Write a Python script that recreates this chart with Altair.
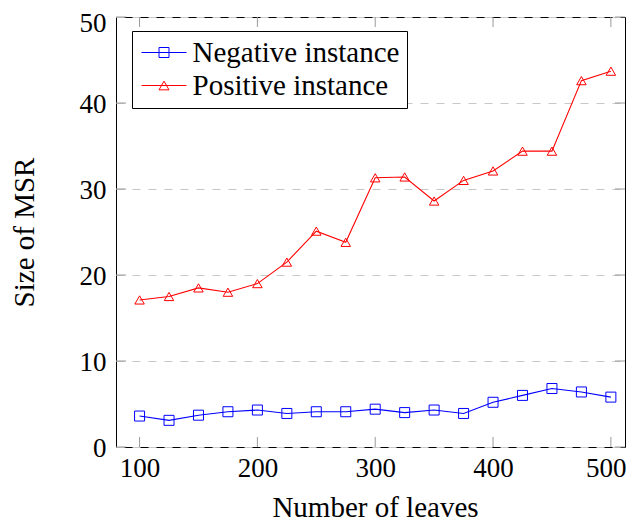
import altair as alt
import pandas as pd

# ---- data ----
leaves = [100, 125, 150, 175, 200, 225, 250, 275, 300, 325, 350, 375, 400, 425, 450, 475, 500]
negative = [3.6, 3.1, 3.7, 4.1, 4.3, 3.9, 4.1, 4.1, 4.4, 4.0, 4.3, 3.9, 5.2, 6.0, 6.8, 6.4, 5.8]
positive = [17.1, 17.5, 18.5, 18.0, 19.0, 21.5, 25.1, 23.8, 31.3, 31.4, 28.6, 31.0, 32.1, 34.4, 34.4, 42.6, 43.7]
series_names = ["Negative instance", "Positive instance"]
series_colors = ["#0000ff", "#ff0000"]
x_ticks = [100, 200, 300, 400, 500]
y_ticks = [0, 10, 20, 30, 40, 50]

FONT = "Liberation Serif"
W, H = 509, 430

df = pd.DataFrame({
    "leaves": leaves * 2,
    "value": negative + positive,
    "series": [series_names[0]] * len(leaves) + [series_names[1]] * len(leaves),
})
xt_df = pd.DataFrame({"leaves": x_ticks})
yt_df = pd.DataFrame({"value": y_ticks})

x_scale = alt.Scale(domain=[80, 512], nice=False, zero=False)
y_scale = alt.Scale(domain=[0, 50], nice=False)

x_axis = alt.Axis(values=x_ticks, title="Number of leaves", grid=False, ticks=False, tickSize=0,
                  domain=False, labelPadding=8, labelFontSize=27, labelFont=FONT, labelColor="black",
                  labelFlush=False,
                  labelOffset={"condition": {"test": "datum.value == 500", "value": -5}, "value": 0},
                  titleFont=FONT, titleFontSize=29, titleFontWeight="normal",
                  titleColor="black", titleX=259, titleY=69, titleBaseline="alphabetic")
y_axis = alt.Axis(values=y_ticks, title="Size of MSR", grid=True, gridDash=[8, 8], gridColor="#c8c8c8",
                  gridWidth=1, ticks=False, tickSize=0, domain=False, labelPadding=10, labelFontSize=27,
                  labelFont=FONT, labelColor="black", labelFlush=False,
                  labelOffset={"condition": {"test": "datum.value == 50", "value": 6}, "value": 1.5},
                  titleFont=FONT, titleFontSize=29,
                  titleFontWeight="normal", titleColor="black", titleX=-83, titleBaseline="alphabetic")

X = alt.X("leaves:Q", scale=x_scale, axis=x_axis)
Y = alt.Y("value:Q", scale=y_scale, axis=y_axis)

layers = []
shapes = ["square", "triangle-up"]
sizes = [100, 90]
for name, col, shp, sz in zip(series_names, series_colors, shapes, sizes):
    sub = alt.Chart(df).transform_filter(alt.datum.series == name)
    layers.append(sub.mark_line(color=col, strokeWidth=1.1).encode(x=X, y=Y))
    layers.append(sub.mark_point(shape=shp, size=sz, filled=False, color=col, strokeWidth=1,
                                 opacity=1).encode(x=X, y=Y))

# inward tick marks on all four sides
tick_col = "#999999"
layers.append(alt.Chart(xt_df).mark_rule(color=tick_col, strokeWidth=1).encode(
    x=X, y=alt.value(H), y2=alt.value(H - 10)))
layers.append(alt.Chart(xt_df).mark_rule(color=tick_col, strokeWidth=1).encode(
    x=X, y=alt.value(0), y2=alt.value(10)))
layers.append(alt.Chart(yt_df).mark_rule(color=tick_col, strokeWidth=1).encode(
    y=Y, x=alt.value(0), x2=alt.value(10)))
layers.append(alt.Chart(yt_df).mark_rule(color=tick_col, strokeWidth=1).encode(
    y=Y, x=alt.value(W), x2=alt.value(W - 10)))

# legend (line through marker), provided by an invisible layer
sq_path = "M-4.5,0H4.5M-1,-1H1V1H-1Z"
tri_path = "M-4.5,0H4.5M0,-0.87L-1,0.87L1,0.87Z"
legend = alt.Legend(title=None, orient="none", legendX=16, legendY=14, fillColor="white",
                    strokeColor="black", padding=7, symbolSize=100, symbolStrokeWidth=1,
                    symbolOffset=10.5, labelOffset=14, labelFont=FONT, labelFontSize=29,
                    labelColor="black", rowPadding=3, symbolOpacity=1, symbolFillColor="transparent",
                    labelLimit=400,
                    labelExpr="datum.label == 'Positive instance' ? '\u00a0Positive instance' : datum.label")
layers.append(alt.Chart(df).mark_point(opacity=0, filled=False).encode(
    x=X, y=Y,
    color=alt.Color("series:N", scale=alt.Scale(domain=series_names, range=series_colors), legend=legend),
    shape=alt.Shape("series:N", scale=alt.Scale(domain=series_names, range=[sq_path, tri_path]), legend=legend),
))

chart = alt.layer(*layers).properties(
    width=W, height=H,
    autosize=alt.AutoSizeParams(type="none"),
    padding={"left": 108, "top": 9, "right": 1, "bottom": 77},
).configure(font=FONT).configure_view(stroke="black", strokeWidth=1)

chart.save("out.html", embed_options={"renderer": "svg", "actions": False})
